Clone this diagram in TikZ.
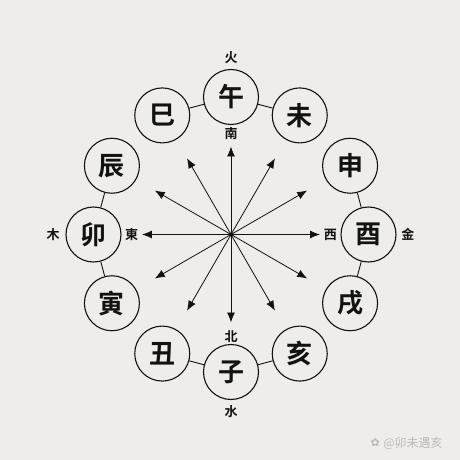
\documentclass[tikz,border=0pt]{standalone}
\usepackage{fontspec}
\newfontfamily\cjk{Noto Sans CJK SC}[BoldFont={Noto Sans CJK SC Bold}]
\newfontfamily\symb{DejaVu Sans}
\usepackage{xcolor}
\definecolor{paper}{RGB}{238,237,233}
\definecolor{ink}{RGB}{18,18,18}
\definecolor{mark}{RGB}{185,185,185}
\usetikzlibrary{arrows.meta, positioning}
\tikzset{
node distance=2pt,
Branch/.style={
	draw=ink, circle,
	line width=1.1pt,
	minimum size=55pt,
	inner sep=0pt,
	text=ink,
	font=\cjk\bfseries\fontsize{26}{26}\selectfont
},
Tag/.style={
	inner sep=1pt,
	text=ink,
	font=\cjk\bfseries\fontsize{13}{13}\selectfont
},
Link/.style={
	draw=ink,
	line width=0.9pt
},
Ray/.style={
	draw=ink,
	line width=0.8pt,
	-{Latex[length=10pt,width=8pt]}
}
}

\begin{document}
\begin{tikzpicture}[x=1pt, y=1pt]
	\fill[paper] (-231,-225.5) rectangle (229,234.5);
	\useasboundingbox (-231,-225.5) rectangle (229,234.5);

	\coordinate (O) at (0,0);

	\node[Branch] (wu) at (90:137.5) {午};
	\node[Branch] (wei) at (60:137.5) {未};
	\node[Branch] (shen) at (30:137.5) {申};
	\node[Branch] (you) at (0:137.5) {酉};
	\node[Branch] (xu) at (-30:137.5) {戌};
	\node[Branch] (hai) at (-60:137.5) {亥};
	\node[Branch] (zi) at (-90:137.5) {子};
	\node[Branch] (chou) at (-120:137.5) {丑};
	\node[Branch] (yin) at (-150:137.5) {寅};
	\node[Branch] (mao) at (180:137.5) {卯};
	\node[Branch] (chen) at (150:137.5) {辰};
	\node[Branch] (si) at (120:137.5) {巳};

	\draw[Link] (si) -- (wu);
	\draw[Link] (wu) -- (wei);
	\draw[Link] (shen) -- (you);
	\draw[Link] (you) -- (xu);
	\draw[Link] (chou) -- (zi);
	\draw[Link] (zi) -- (hai);
	\draw[Link] (chen) -- (mao);
	\draw[Link] (mao) -- (yin);

	\node[Tag, above=4.5pt of wu] (huo) {火};
	\node[Tag, below=1pt of wu] (nan) {南};
	\node[Tag, above=0pt of zi] (bei) {北};
	\node[Tag, below=4.5pt of zi] (shui) {水};
	\node[Tag, right=2.5pt of mao] (dong) {東};
	\node[Tag, left=4.5pt of mao] (mu) {木};
	\node[Tag, left=2.5pt of you] (xi) {西};
	\node[Tag, right=3.5pt of you] (jin) {金};

	\coordinate (t0) at (0:89);
	\coordinate (t30) at (30:88);
	\coordinate (t60) at (60:88);
	\coordinate (t90) at (90:88);
	\coordinate (t120) at (120:88);
	\coordinate (t150) at (150:88);
	\coordinate (t180) at (180:89);
	\coordinate (t210) at (210:88);
	\coordinate (t240) at (240:88);
	\coordinate (t270) at (270:88);
	\coordinate (t300) at (300:88);
	\coordinate (t330) at (330:88);

	\draw[Ray] (O) -- (t0);
	\draw[Ray] (O) -- (t30);
	\draw[Ray] (O) -- (t60);
	\draw[Ray] (O) -- (t90);
	\draw[Ray] (O) -- (t120);
	\draw[Ray] (O) -- (t150);
	\draw[Ray] (O) -- (t180);
	\draw[Ray] (O) -- (t210);
	\draw[Ray] (O) -- (t240);
	\draw[Ray] (O) -- (t270);
	\draw[Ray] (O) -- (t300);
	\draw[Ray] (O) -- (t330);
	\fill[ink] (O) circle (2pt);

	% watermark
	\node[text=mark, font=\cjk\fontsize{12}{12}\selectfont, inner sep=0pt] (sign) at (182,-208.5) {@卯未遇亥};
	\node[text=mark, font=\symb\fontsize{11}{11}\selectfont, inner sep=0pt, left=3pt of sign] (logo) {✿};
\end{tikzpicture}
\end{document}
